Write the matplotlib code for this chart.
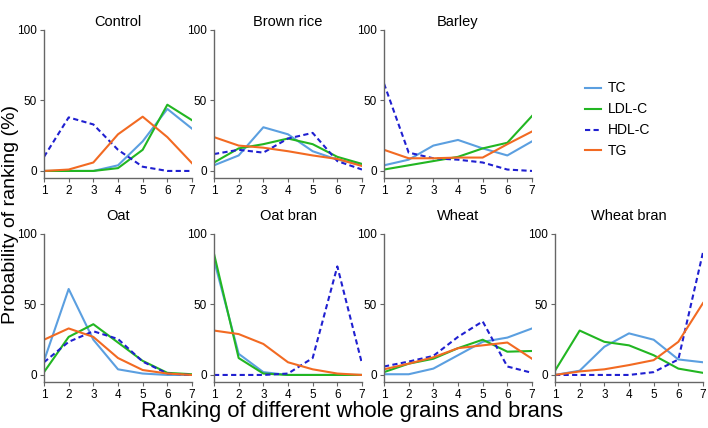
import matplotlib.pyplot as plt

rank = [1, 2, 3, 4, 5, 6, 7]

# probability of ranking (%) for each grain
control_tc = [0, 0, 0, 4, 21, 44, 30]
control_ldl = [0, 0, 0, 2, 15, 47, 36]
control_hdl = [10, 38, 33, 15, 3, 0, 0]
control_tg = [0, 1, 6, 26, 38.5, 24, 5.5]

brown_tc = [4, 11, 31, 26, 14, 8, 4.7]
brown_ldl = [6, 16, 19, 23, 19, 10, 5]
brown_hdl = [12, 15, 13, 23, 27, 7, 1]
brown_tg = [24, 18, 16.5, 14, 11, 8.5, 3.5]

barley_tc = [4, 8, 18, 22, 16, 11, 21]
barley_ldl = [1, 4, 7, 10, 16, 20, 39]
barley_hdl = [62, 13, 9, 8, 6, 1, 0]
barley_tg = [15, 9, 9, 9.5, 9.5, 19, 28]

oat_tc = [10, 61, 25, 4, 1, 0, 0]
oat_ldl = [2, 27, 36, 23, 10, 1.5, 0.5]
oat_hdl = [9, 23.5, 31, 25.5, 9.5, 1, 0]
oat_tg = [25, 33, 27, 12, 3.5, 1, 0]

oatbran_tc = [81.5, 15, 2, 0, 0, 0, 0]
oatbran_ldl = [86, 12, 1, 0, 0, 0, 0]
oatbran_hdl = [0, 0, 0, 1, 12, 77, 8]
oatbran_tg = [31.5, 29, 22, 9, 4, 1, 0]

wheat_tc = [0.5, 0.5, 4.5, 14, 23.5, 26.5, 33]
wheat_ldl = [2, 8, 11.5, 19, 25, 16.5, 17]
wheat_hdl = [6, 9.5, 13.5, 27, 38, 6, 1.5]
wheat_tg = [4, 8, 12.5, 19, 21, 23, 11.5]

wbran_tc = [0, 3, 20, 29.5, 25, 11, 9]
wbran_ldl = [3, 31.5, 23.5, 21, 14, 4.5, 1.5]
wbran_hdl = [0, 0, 0, 0, 2, 11, 87]
wbran_tg = [0, 2.5, 4, 7, 10.5, 23.5, 51]

panels = [
    ('Control', control_tc, control_ldl, control_hdl, control_tg, 0, 0),
    ('Brown rice', brown_tc, brown_ldl, brown_hdl, brown_tg, 0, 1),
    ('Barley', barley_tc, barley_ldl, barley_hdl, barley_tg, 0, 2),
    ('Oat', oat_tc, oat_ldl, oat_hdl, oat_tg, 1, 0),
    ('Oat bran', oatbran_tc, oatbran_ldl, oatbran_hdl, oatbran_tg, 1, 1),
    ('Wheat', wheat_tc, wheat_ldl, wheat_hdl, wheat_tg, 1, 2),
    ('Wheat bran', wbran_tc, wbran_ldl, wbran_hdl, wbran_tg, 1, 3),
]

c_tc = '#5b9fe0'
c_ldl = '#22b622'
c_hdl = '#2020d0'
c_tg = '#f26a22'

plt.rcParams['font.family'] = ['Liberation Sans', 'DejaVu Sans']

fig = plt.figure(figsize=(7.08, 4.28), dpi=100)

lefts = [44, 214, 384, 555]
W, H = 708, 428

for title, tc, ldl, hdl, tg, row, col in panels:
    if row == 0:
        top, bot = 30, 178
    else:
        top, bot = 234, 382
    ax = fig.add_axes([lefts[col] / W, 1 - bot / H, 148 / W, (bot - top) / H])
    ax.plot(rank, tc, color=c_tc, lw=1.5, label='TC')
    ax.plot(rank, ldl, color=c_ldl, lw=1.5, label='LDL-C')
    ax.plot(rank, hdl, color=c_hdl, lw=1.5, ls=(0, (2.5, 1.6)), label='HDL-C')
    ax.plot(rank, tg, color=c_tg, lw=1.5, label='TG')
    ax.set_xlim(1, 7)
    ax.set_ylim(-5, 100)
    ax.set_xticks(rank)
    ax.set_yticks([0, 50, 100])
    ax.spines['top'].set_visible(False)
    ax.spines['right'].set_visible(False)
    for s in ['left', 'bottom']:
        ax.spines[s].set_color('#666666')
        ax.spines[s].set_linewidth(1)
    ax.tick_params(labelsize=8.5, length=3, color='#666666', pad=2)
    ax.set_title(title, fontsize=10.5, pad=3 if row == 0 else 10)
    if title == 'Control':
        handles, labels = ax.get_legend_handles_labels()

fig.legend(handles, labels, loc='upper left', bbox_to_anchor=(572 / W, 1 - 69 / H),
           frameon=False, fontsize=10, handlelength=1.2, handletextpad=0.5,
           labelspacing=0.5)

fig.text(2 / W, 0.5, 'Probability of ranking (%)', rotation=90, va='center',
         ha='left', fontsize=14)
fig.text(0.497, 1 - 411 / H, 'Ranking of different whole grains and brans',
         ha='center', va='center', fontsize=15.8)

fig.savefig('out.png', dpi=100)
